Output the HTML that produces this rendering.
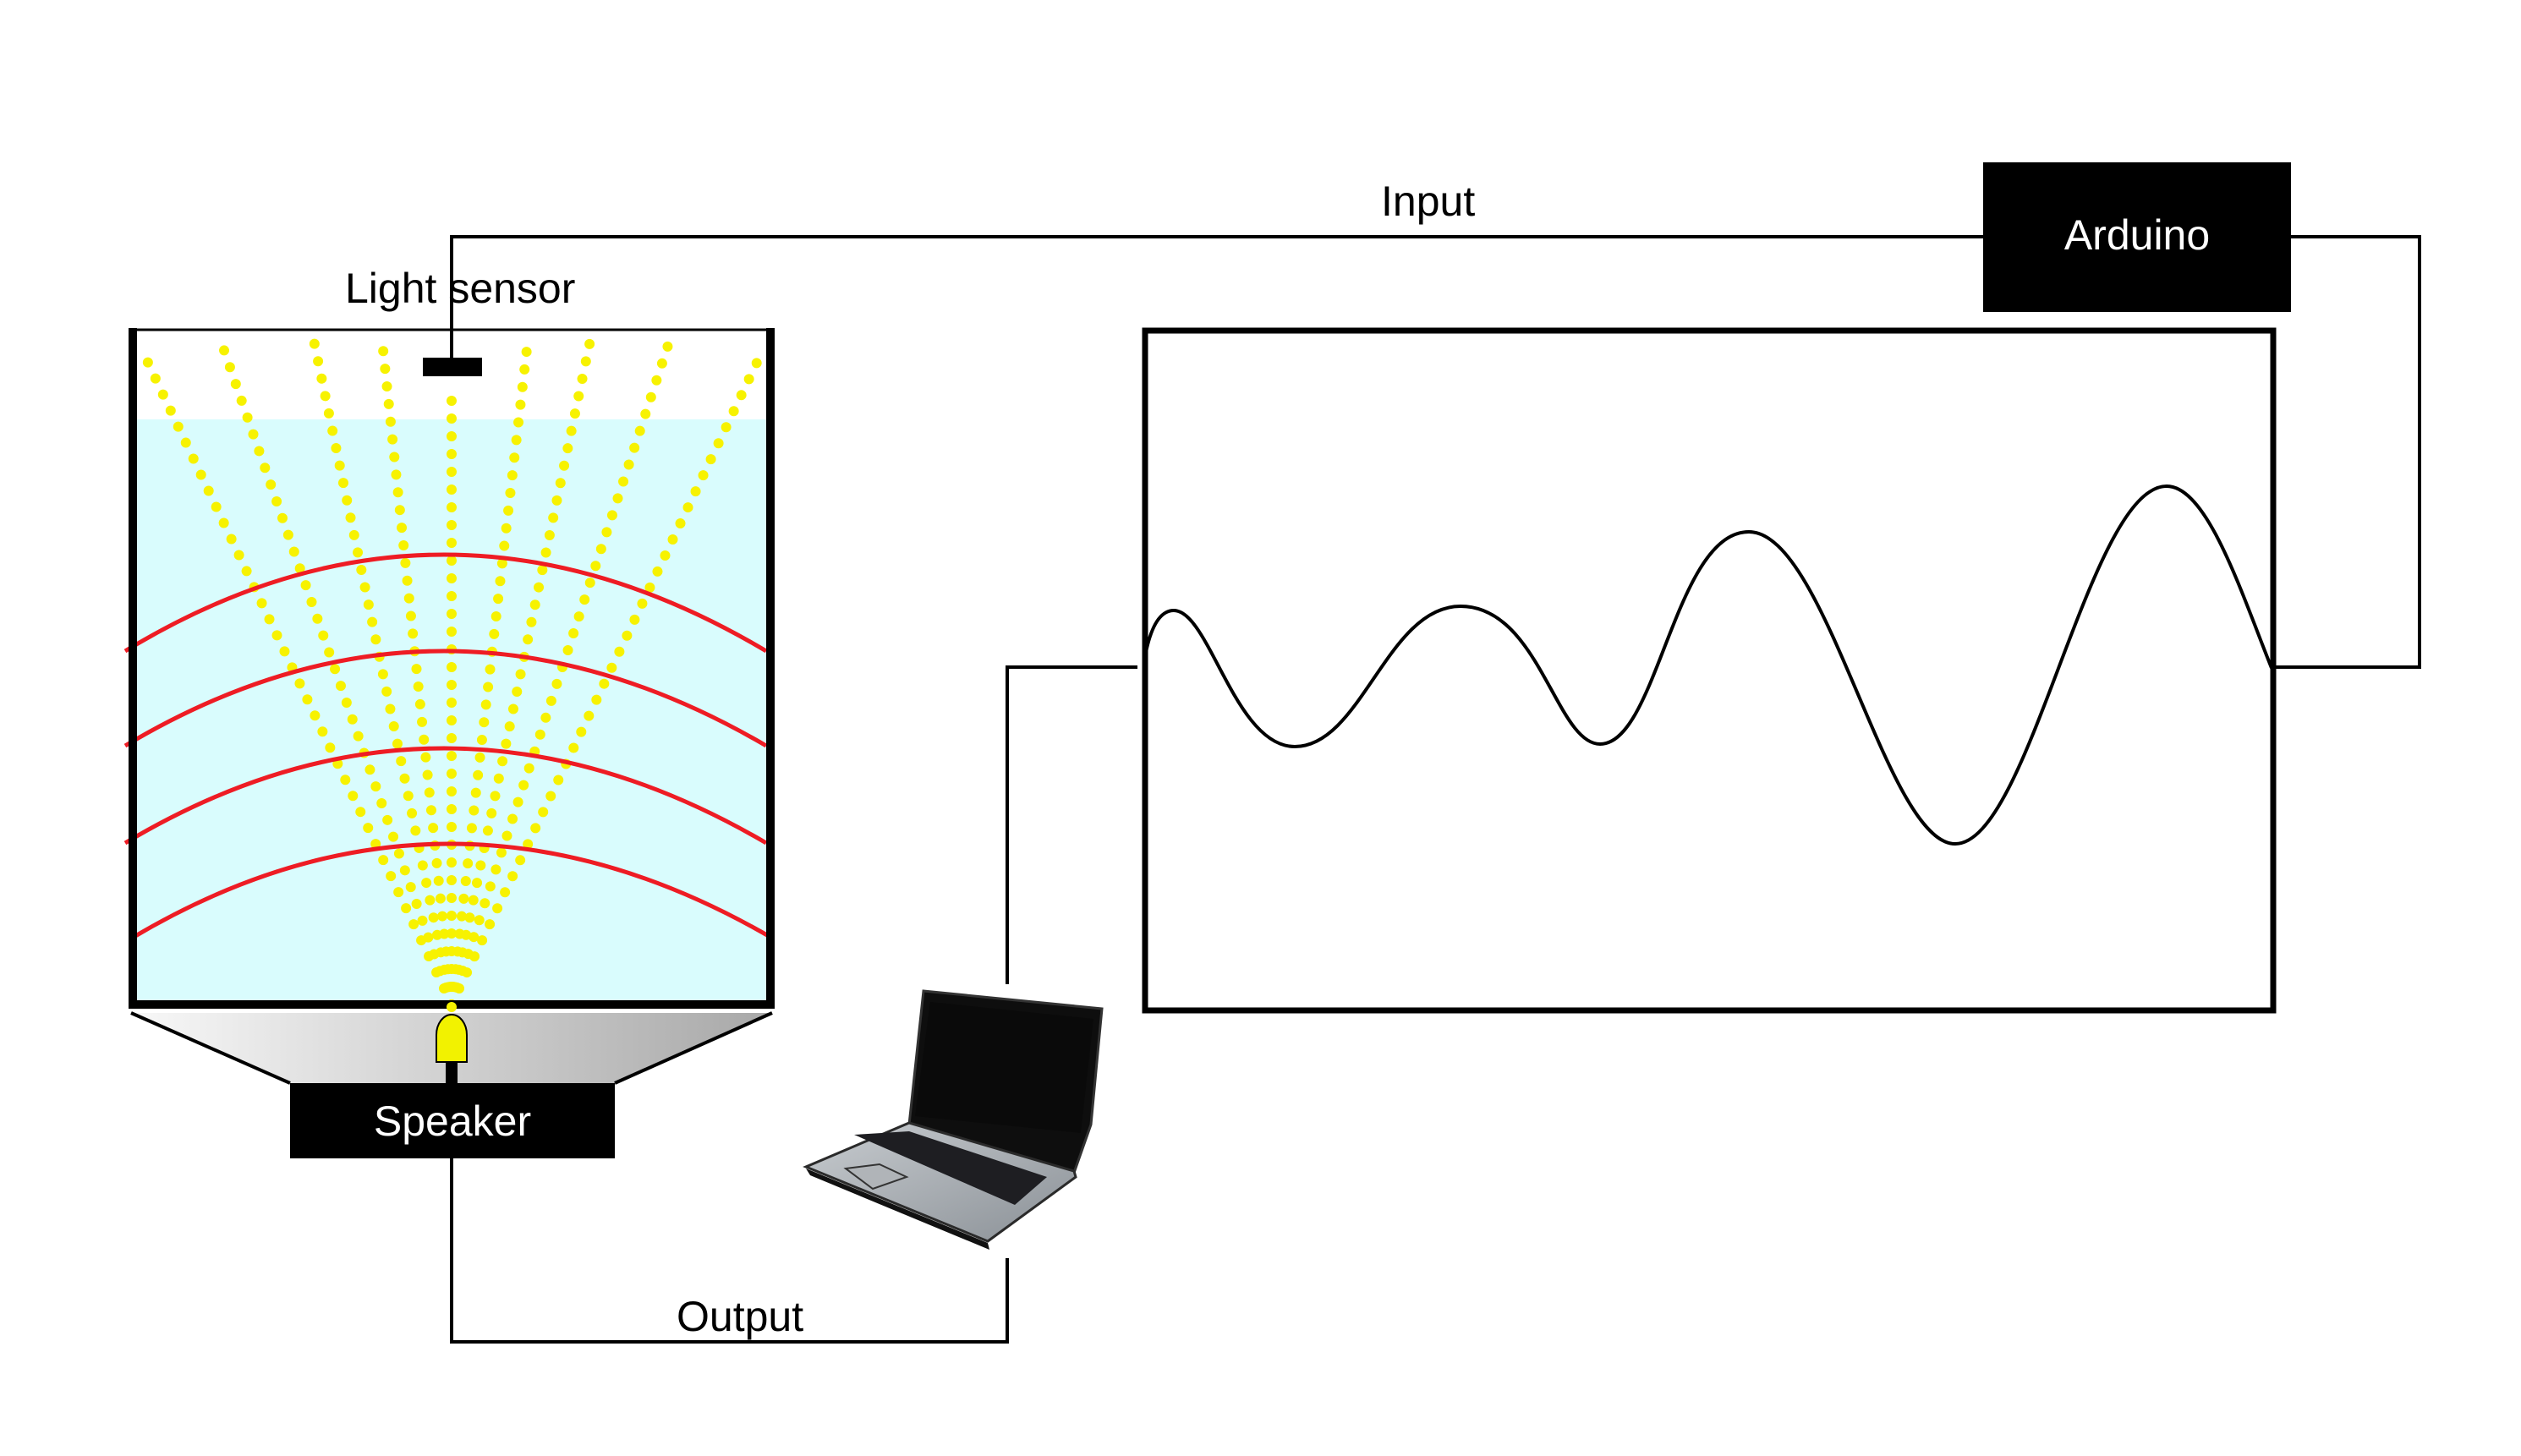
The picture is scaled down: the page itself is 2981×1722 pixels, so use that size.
<!DOCTYPE html>
<html><head><meta charset="utf-8"><style>
html,body{margin:0;padding:0;background:#fff;}
svg{display:block;}
text{font-family:"Liberation Sans",sans-serif;}
</style></head><body>
<svg width="2981" height="1722" viewBox="0 0 2981 1722" xmlns="http://www.w3.org/2000/svg">
<defs>
<linearGradient id="tg" x1="0" x2="1" y1="0" y2="0">
<stop offset="0" stop-color="#f8f8f8"/><stop offset="1" stop-color="#a8a8a8"/>
</linearGradient>
<linearGradient id="kb" x1="0" x2="1" y1="0" y2="1">
<stop offset="0" stop-color="#c8ccd0"/><stop offset="1" stop-color="#8a9096"/>
</linearGradient>
</defs>
<rect x="158" y="496" width="752" height="692" fill="#d9fcfd"/>
<g stroke="#f7f200" stroke-width="12" stroke-linecap="round" stroke-dasharray="0 21" fill="none">
<line x1="534" y1="1188" x2="167" y2="412"/>
<line x1="534" y1="1188" x2="260" y2="400"/>
<line x1="534" y1="1188" x2="369" y2="393"/>
<line x1="534" y1="1188" x2="452" y2="404"/>
<line x1="534" y1="1188" x2="534" y2="465"/>
<line x1="534" y1="1188" x2="624" y2="404"/>
<line x1="534" y1="1188" x2="700" y2="393"/>
<line x1="534" y1="1188" x2="794" y2="396"/>
<line x1="534" y1="1188" x2="902" y2="414"/>
</g>
<g stroke="#ee1c24" stroke-width="5" fill="none">
<path d="M148,770 Q523,542 906,770"/>
<path d="M148,882 Q523,658 906,882"/>
<path d="M148,997 Q523,773 906,997"/>
<path d="M155,1110 Q530,886 914,1110"/>
</g>
<path d="M157,388 V1188 H911 V388" stroke="#000" stroke-width="10" fill="none"/>
<line x1="153" y1="390" x2="915" y2="390" stroke="#000" stroke-width="3"/>
<rect x="500" y="423" width="70" height="22" fill="#000"/>
<polygon points="155,1198 913,1198 727,1281 343,1281" fill="url(#tg)"/>
<line x1="155" y1="1198" x2="343" y2="1281" stroke="#000" stroke-width="4"/>
<line x1="913" y1="1198" x2="727" y2="1281" stroke="#000" stroke-width="4"/>
<circle cx="534" cy="1191" r="6" fill="#f7f200"/>
<path d="M516,1256 V1224 A18,24 0 0 1 552,1224 V1256 Z" fill="#f2f200" stroke="#000" stroke-width="2"/>
<rect x="527" y="1256" width="14" height="26" fill="#000"/>
<rect x="343" y="1281" width="384" height="89" fill="#000"/>
<text x="535" y="1343" font-size="50" fill="#fff" text-anchor="middle">Speaker</text>
<g stroke="#000" stroke-width="4" fill="none">
<path d="M534,423 V280 H2345"/>
<path d="M2709,280 H2861 V789 H2688"/>
<path d="M1345,789 H1191 V1164"/>
<path d="M534,1370 V1587 H1191 V1488"/>
</g>
<text x="408" y="358" font-size="50" fill="#000">Light sensor</text>
<text x="1633" y="255" font-size="50" fill="#000">Input</text>
<text x="800" y="1574" font-size="50" fill="#000">Output</text>
<rect x="2345" y="192" width="364" height="177" fill="#000"/>
<text x="2527" y="295" font-size="50" fill="#fff" text-anchor="middle">Arduino</text>
<rect x="1354" y="391" width="1334" height="804" stroke="#000" stroke-width="7" fill="none"/>
<path d="M1353,782 C1360,740 1372,722 1388,722 C1430,722 1460,883 1531,883 C1610,883 1640,717 1727,717 C1820,717 1840,880 1892,880 C1960,880 1980,629 2068,629 C2160,629 2230,998 2312,998 C2400,998 2470,575 2562,575 C2610,575 2650,700 2686,790" stroke="#000" stroke-width="4" fill="none"/>
<polygon points="1092,1172 1303,1193 1290,1330 1270,1387 1075,1330" fill="#0e0e0e" stroke="#333" stroke-width="3"/>
<polygon points="1100,1185 1293,1205 1278,1340 1082,1320" fill="#0a0a0a"/>
<polygon points="1075,1328 1270,1385 1272,1392 1168,1468 953,1380" fill="url(#kb)" stroke="#2a2a2a" stroke-width="3"/>
<polygon points="1010,1342 1075,1338 1238,1392 1200,1425" fill="#1e1e22"/>
<polygon points="1000,1382 1040,1377 1072,1392 1032,1406" fill="#b0b4b8" stroke="#333" stroke-width="2"/>
<polygon points="953,1382 1168,1470 1170,1478 958,1390" fill="#111"/>
</svg>
</body></html>
